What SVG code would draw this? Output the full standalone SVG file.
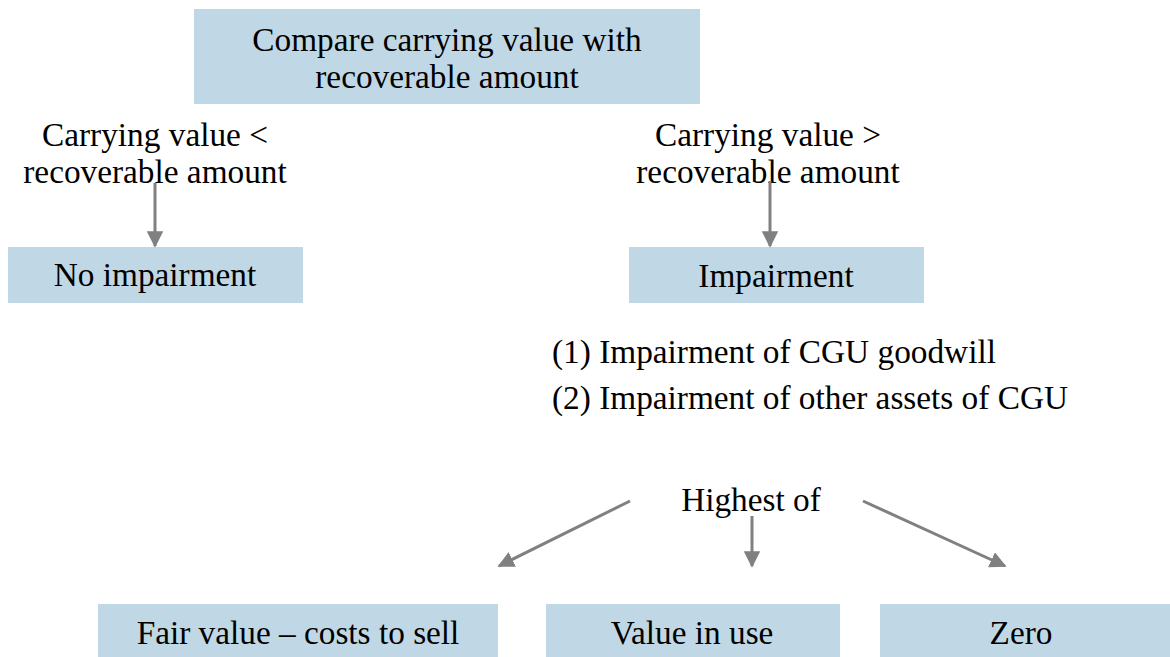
<svg xmlns="http://www.w3.org/2000/svg" width="1170" height="657" viewBox="0 0 1170 657">
  <style>
    .box { fill: #c0d8e5; }
    .t { font-family: "Liberation Serif", "DejaVu Serif", serif; font-size: 33.3px; fill: #000; }
    .c { text-anchor: middle; }
    .arrow { stroke: #808080; stroke-width: 3; fill: none; marker-end: url(#head); }
  </style>
  <defs>
    <marker id="head" viewBox="0 0 10 10" refX="9" refY="5" markerWidth="5.5" markerHeight="5.5" orient="auto" markerUnits="strokeWidth">
      <path d="M0,0 L10,5 L0,10 z" fill="#808080"/>
    </marker>
  </defs>
  <rect width="1170" height="657" fill="#fff"/>

  <g id="compare">
    <rect class="box" x="194" y="9" width="506" height="95"/>
    <text class="t c" x="447" y="51">Compare carrying value with</text>
    <text class="t c" x="447" y="88">recoverable amount</text>
  </g>

  <g id="label-less">
    <text class="t c" x="155" y="146">Carrying value &lt;</text>
    <text class="t c" x="155" y="183">recoverable amount</text>
  </g>

  <g id="label-greater">
    <text class="t c" x="768" y="146">Carrying value &gt;</text>
    <text class="t c" x="768" y="183">recoverable amount</text>
  </g>

  <g id="no-impairment">
    <rect class="box" x="8" y="247" width="295" height="56"/>
    <text class="t c" x="155" y="286">No impairment</text>
  </g>

  <g id="impairment">
    <rect class="box" x="629" y="247" width="295" height="56"/>
    <text class="t c" x="776" y="287">Impairment</text>
  </g>

  <g id="impairment-steps">
    <text class="t" x="552" y="363">(1) Impairment of CGU goodwill</text>
    <text class="t" x="552" y="409">(2) Impairment of other assets of CGU</text>
  </g>

  <g id="highest-of">
    <text class="t c" x="751" y="511">Highest of</text>
  </g>

  <g id="fair-value">
    <rect class="box" x="98" y="604" width="400" height="53"/>
    <text class="t c" x="298" y="644">Fair value – costs to sell</text>
  </g>

  <g id="value-in-use">
    <rect class="box" x="546" y="604" width="294" height="53"/>
    <text class="t c" x="692" y="644">Value in use</text>
  </g>

  <g id="zero">
    <rect class="box" x="880" y="604" width="290" height="53"/>
    <text class="t c" x="1021" y="644">Zero</text>
  </g>

  <g id="connectors">
    <line class="arrow" x1="155" y1="183" x2="155" y2="246"/>
    <line class="arrow" x1="770" y1="181" x2="770" y2="246"/>
    <line class="arrow" x1="630" y1="501" x2="499" y2="566"/>
    <line class="arrow" x1="752" y1="516" x2="752" y2="566"/>
    <line class="arrow" x1="863" y1="501" x2="1005" y2="566"/>
  </g>
</svg>
